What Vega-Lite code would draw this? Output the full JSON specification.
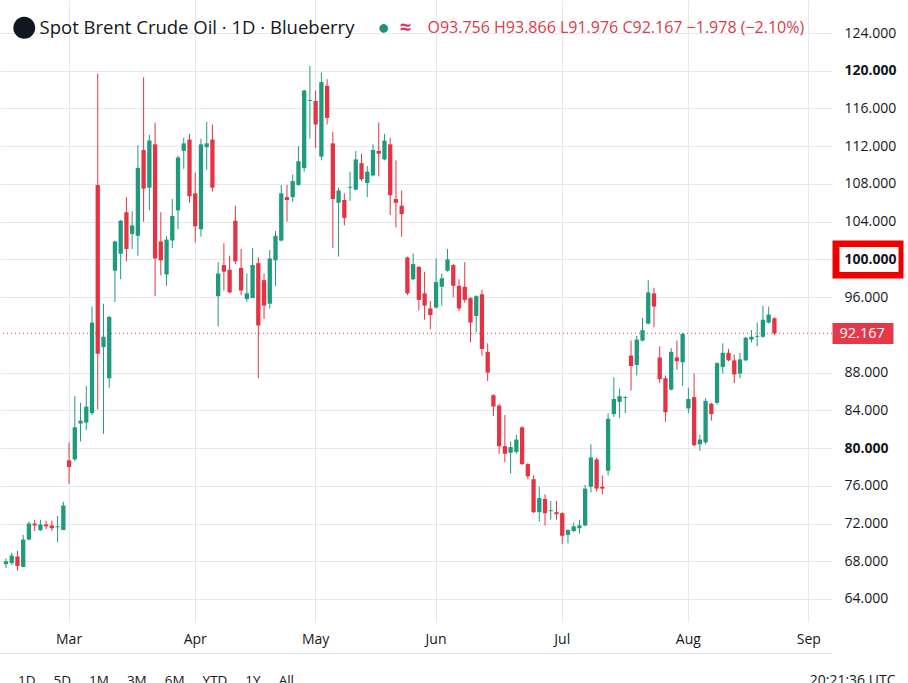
{
  "$schema": "https://vega.github.io/schema/vega-lite/v6.json",
  "width": 832,
  "height": 622,
  "autosize": {"type": "none"},
  "padding": {"left": 0, "top": 0, "right": 76, "bottom": 61},
  "background": "white",
  "config": {"view": {"stroke": null}, "font": "Open Sans"},
  "title": {
    "text": "\u200b\u2003\u2006Spot Brent Crude Oil · 1D · Blueberry",
    "subtitle": "1D\u2003\u20045D\u2003\u20041M\u2003\u20043M\u2003\u20046M\u2003\u2004YTD\u2003\u20041Y\u2003\u2004All",
    "anchor": "start",
    "frame": "group",
    "orient": "top",
    "offset": -687,
    "dx": 18,
    "fontSize": 18.5,
    "fontWeight": "normal",
    "color": "#131722",
    "subtitleFontSize": 13.5,
    "subtitleColor": "#131722",
    "subtitlePadding": 636
  },
  "data": {
    "values": [
      {"date": "2026-02-13", "open": 67.7, "high": 68.3, "low": 67.3, "close": 68.0},
      {"date": "2026-02-16", "open": 67.8, "high": 68.9, "low": 67.6, "close": 68.6},
      {"date": "2026-02-17", "open": 68.5, "high": 69.1, "low": 67.0, "close": 67.5},
      {"date": "2026-02-18", "open": 67.4, "high": 70.8, "low": 67.4, "close": 70.3},
      {"date": "2026-02-19", "open": 70.3, "high": 72.2, "low": 70.2, "close": 72.0},
      {"date": "2026-02-20", "open": 72.0, "high": 72.4, "low": 71.2, "close": 71.8},
      {"date": "2026-02-23", "open": 71.3, "high": 72.4, "low": 71.2, "close": 71.9},
      {"date": "2026-02-24", "open": 71.9, "high": 72.3, "low": 71.4, "close": 71.7},
      {"date": "2026-02-25", "open": 71.8, "high": 72.3, "low": 71.2, "close": 71.5},
      {"date": "2026-02-26", "open": 71.6, "high": 72.8, "low": 70.0, "close": 71.7},
      {"date": "2026-02-27", "open": 71.3, "high": 74.3, "low": 71.3, "close": 73.9},
      {"date": "2026-03-02", "open": 78.7, "high": 80.6, "low": 76.2, "close": 78.0},
      {"date": "2026-03-03", "open": 78.8, "high": 85.5, "low": 78.6, "close": 82.2},
      {"date": "2026-03-04", "open": 82.6, "high": 84.8, "low": 80.7, "close": 82.9},
      {"date": "2026-03-05", "open": 82.7, "high": 86.6, "low": 81.9, "close": 84.4},
      {"date": "2026-03-06", "open": 83.7, "high": 95.0, "low": 83.5, "close": 93.3},
      {"date": "2026-03-09", "open": 107.9, "high": 119.7, "low": 84.1, "close": 90.0},
      {"date": "2026-03-10", "open": 90.7, "high": 95.3, "low": 81.5, "close": 91.8},
      {"date": "2026-03-11", "open": 87.4, "high": 94.0, "low": 86.4, "close": 93.9},
      {"date": "2026-03-12", "open": 98.8, "high": 102.0, "low": 95.5, "close": 101.9},
      {"date": "2026-03-13", "open": 100.6, "high": 104.2, "low": 97.9, "close": 104.1},
      {"date": "2026-03-16", "open": 105.0, "high": 106.6, "low": 99.8, "close": 101.1},
      {"date": "2026-03-17", "open": 102.7, "high": 105.1, "low": 101.1, "close": 103.6},
      {"date": "2026-03-18", "open": 102.5, "high": 112.1, "low": 100.4, "close": 109.7},
      {"date": "2026-03-19", "open": 111.6, "high": 119.3, "low": 104.0, "close": 107.5},
      {"date": "2026-03-20", "open": 107.6, "high": 113.2, "low": 105.2, "close": 112.6},
      {"date": "2026-03-23", "open": 112.2, "high": 114.5, "low": 96.1, "close": 100.1},
      {"date": "2026-03-24", "open": 101.9, "high": 105.0, "low": 98.3, "close": 99.9},
      {"date": "2026-03-25", "open": 98.4, "high": 102.5, "low": 97.2, "close": 102.1},
      {"date": "2026-03-26", "open": 102.0, "high": 106.4, "low": 101.2, "close": 104.6},
      {"date": "2026-03-27", "open": 105.2, "high": 111.0, "low": 103.2, "close": 110.8},
      {"date": "2026-03-30", "open": 111.5, "high": 112.9, "low": 109.6, "close": 112.3},
      {"date": "2026-03-31", "open": 112.7, "high": 113.3, "low": 106.0, "close": 106.7},
      {"date": "2026-04-01", "open": 107.0, "high": 109.2, "low": 101.8, "close": 103.5},
      {"date": "2026-04-02", "open": 103.2, "high": 112.8, "low": 102.4, "close": 112.2},
      {"date": "2026-04-06", "open": 111.9, "high": 114.6, "low": 109.5, "close": 112.3},
      {"date": "2026-04-07", "open": 112.7, "high": 114.3, "low": 107.2, "close": 107.6},
      {"date": "2026-04-08", "open": 96.1, "high": 99.7, "low": 92.9, "close": 98.5},
      {"date": "2026-04-09", "open": 99.4, "high": 101.7, "low": 96.7, "close": 98.7},
      {"date": "2026-04-10", "open": 98.9, "high": 100.4, "low": 96.4, "close": 96.5},
      {"date": "2026-04-13", "open": 104.1, "high": 105.7, "low": 99.5, "close": 99.8},
      {"date": "2026-04-14", "open": 99.1, "high": 101.1, "low": 96.2, "close": 96.7},
      {"date": "2026-04-15", "open": 95.8, "high": 98.5, "low": 95.5, "close": 96.4},
      {"date": "2026-04-16", "open": 95.9, "high": 101.2, "low": 95.9, "close": 99.4},
      {"date": "2026-04-17", "open": 99.6, "high": 100.2, "low": 87.4, "close": 93.0},
      {"date": "2026-04-20", "open": 97.8, "high": 98.5, "low": 93.7, "close": 95.1},
      {"date": "2026-04-21", "open": 95.3, "high": 101.0, "low": 94.8, "close": 100.1},
      {"date": "2026-04-22", "open": 99.9, "high": 103.0, "low": 97.2, "close": 102.5},
      {"date": "2026-04-23", "open": 102.0, "high": 107.9, "low": 101.9, "close": 107.0},
      {"date": "2026-04-24", "open": 106.6, "high": 107.9, "low": 104.0, "close": 106.3},
      {"date": "2026-04-27", "open": 106.6, "high": 109.0, "low": 106.1, "close": 108.3},
      {"date": "2026-04-28", "open": 107.9, "high": 112.0, "low": 107.8, "close": 110.4},
      {"date": "2026-04-29", "open": 109.7, "high": 118.0, "low": 109.3, "close": 117.9},
      {"date": "2026-04-30", "open": 116.8, "high": 120.5, "low": 112.8, "close": 116.9},
      {"date": "2026-05-01", "open": 116.8, "high": 117.9, "low": 111.8, "close": 114.3},
      {"date": "2026-05-04", "open": 110.9, "high": 119.8, "low": 110.5, "close": 118.8},
      {"date": "2026-05-05", "open": 118.4, "high": 119.1, "low": 114.3, "close": 115.0},
      {"date": "2026-05-06", "open": 112.3, "high": 113.5, "low": 101.2, "close": 106.4},
      {"date": "2026-05-07", "open": 106.0, "high": 107.6, "low": 100.3, "close": 107.3},
      {"date": "2026-05-08", "open": 106.3, "high": 107.0, "low": 103.6, "close": 104.4},
      {"date": "2026-05-11", "open": 107.6, "high": 109.3, "low": 106.2, "close": 107.7},
      {"date": "2026-05-12", "open": 107.4, "high": 111.5, "low": 107.3, "close": 110.6},
      {"date": "2026-05-13", "open": 110.2, "high": 111.2, "low": 108.3, "close": 108.5},
      {"date": "2026-05-14", "open": 108.1, "high": 109.9, "low": 106.6, "close": 109.3},
      {"date": "2026-05-15", "open": 108.9, "high": 112.2, "low": 108.8, "close": 111.6},
      {"date": "2026-05-18", "open": 111.5, "high": 114.5, "low": 108.8, "close": 111.2},
      {"date": "2026-05-19", "open": 110.6, "high": 113.3, "low": 110.5, "close": 112.6},
      {"date": "2026-05-20", "open": 112.2, "high": 112.9, "low": 104.7, "close": 106.8},
      {"date": "2026-05-21", "open": 106.4, "high": 110.5, "low": 103.4, "close": 106.0},
      {"date": "2026-05-22", "open": 105.7, "high": 107.3, "low": 102.4, "close": 104.8},
      {"date": "2026-05-25", "open": 100.2, "high": 100.3, "low": 96.2, "close": 96.4},
      {"date": "2026-05-26", "open": 97.9, "high": 100.6, "low": 97.8, "close": 99.5},
      {"date": "2026-05-27", "open": 99.2, "high": 99.3, "low": 94.6, "close": 95.7},
      {"date": "2026-05-28", "open": 96.4, "high": 98.7, "low": 93.6, "close": 95.1},
      {"date": "2026-05-29", "open": 94.8, "high": 95.6, "low": 92.6, "close": 94.1},
      {"date": "2026-06-01", "open": 94.9, "high": 100.1, "low": 94.8, "close": 97.6},
      {"date": "2026-06-02", "open": 97.1, "high": 98.5, "low": 95.1, "close": 98.0},
      {"date": "2026-06-03", "open": 98.8, "high": 101.1, "low": 98.7, "close": 100.0},
      {"date": "2026-06-04", "open": 99.4, "high": 99.5, "low": 96.0, "close": 97.2},
      {"date": "2026-06-05", "open": 97.2, "high": 97.9, "low": 94.5, "close": 94.8},
      {"date": "2026-06-08", "open": 97.1, "high": 99.7, "low": 95.4, "close": 95.7},
      {"date": "2026-06-09", "open": 95.9, "high": 96.0, "low": 91.2, "close": 93.3},
      {"date": "2026-06-10", "open": 94.0, "high": 96.2, "low": 92.3, "close": 96.1},
      {"date": "2026-06-11", "open": 96.3, "high": 96.8, "low": 89.8, "close": 90.5},
      {"date": "2026-06-12", "open": 90.2, "high": 91.1, "low": 87.1, "close": 88.0},
      {"date": "2026-06-15", "open": 85.6, "high": 85.7, "low": 83.4, "close": 84.4},
      {"date": "2026-06-16", "open": 84.5, "high": 84.7, "low": 79.4, "close": 80.2},
      {"date": "2026-06-17", "open": 80.2, "high": 83.5, "low": 78.5, "close": 79.4},
      {"date": "2026-06-18", "open": 79.5, "high": 80.7, "low": 77.3, "close": 80.1},
      {"date": "2026-06-19", "open": 79.6, "high": 81.4, "low": 79.4, "close": 80.9},
      {"date": "2026-06-22", "open": 82.2, "high": 82.3, "low": 78.2, "close": 78.3},
      {"date": "2026-06-23", "open": 78.3, "high": 78.4, "low": 76.7, "close": 77.0},
      {"date": "2026-06-24", "open": 76.7, "high": 77.1, "low": 73.1, "close": 73.2},
      {"date": "2026-06-25", "open": 73.2, "high": 75.9, "low": 72.2, "close": 74.7},
      {"date": "2026-06-26", "open": 74.6, "high": 75.1, "low": 71.8, "close": 73.1},
      {"date": "2026-06-29", "open": 73.3, "high": 74.4, "low": 72.4, "close": 73.4},
      {"date": "2026-06-30", "open": 73.2, "high": 74.4, "low": 72.4, "close": 73.0},
      {"date": "2026-07-01", "open": 73.1, "high": 73.2, "low": 69.8, "close": 70.7},
      {"date": "2026-07-02", "open": 70.8, "high": 71.4, "low": 69.9, "close": 71.3},
      {"date": "2026-07-06", "open": 71.2, "high": 72.1, "low": 71.1, "close": 71.7},
      {"date": "2026-07-07", "open": 71.5, "high": 72.4, "low": 70.9, "close": 71.8},
      {"date": "2026-07-08", "open": 71.8, "high": 76.1, "low": 71.7, "close": 75.7},
      {"date": "2026-07-09", "open": 75.9, "high": 80.4, "low": 75.3, "close": 79.0},
      {"date": "2026-07-10", "open": 78.8, "high": 79.0, "low": 75.4, "close": 75.7},
      {"date": "2026-07-13", "open": 75.9, "high": 77.1, "low": 75.1, "close": 75.7},
      {"date": "2026-07-14", "open": 77.6, "high": 83.7, "low": 77.1, "close": 83.1},
      {"date": "2026-07-15", "open": 83.6, "high": 87.5, "low": 83.3, "close": 85.2},
      {"date": "2026-07-16", "open": 84.9, "high": 86.3, "low": 83.2, "close": 85.5},
      {"date": "2026-07-17", "open": 85.3, "high": 85.5, "low": 83.7, "close": 85.4},
      {"date": "2026-07-20", "open": 89.8, "high": 91.4, "low": 86.1, "close": 88.7},
      {"date": "2026-07-21", "open": 88.8, "high": 91.9, "low": 87.7, "close": 91.5},
      {"date": "2026-07-22", "open": 91.4, "high": 93.8, "low": 91.3, "close": 92.5},
      {"date": "2026-07-23", "open": 93.2, "high": 97.8, "low": 93.1, "close": 96.5},
      {"date": "2026-07-24", "open": 96.4, "high": 97.0, "low": 92.8, "close": 95.0},
      {"date": "2026-07-27", "open": 89.6, "high": 90.8, "low": 86.9, "close": 87.3},
      {"date": "2026-07-28", "open": 87.4, "high": 87.7, "low": 82.8, "close": 83.8},
      {"date": "2026-07-29", "open": 86.2, "high": 90.6, "low": 86.1, "close": 90.2},
      {"date": "2026-07-30", "open": 89.6, "high": 91.4, "low": 88.3, "close": 89.2},
      {"date": "2026-07-31", "open": 89.1, "high": 92.2, "low": 86.6, "close": 92.1},
      {"date": "2026-08-03", "open": 84.2, "high": 86.4, "low": 83.7, "close": 85.2},
      {"date": "2026-08-04", "open": 85.4, "high": 87.9, "low": 80.2, "close": 80.3},
      {"date": "2026-08-05", "open": 80.4, "high": 81.4, "low": 79.7, "close": 80.9},
      {"date": "2026-08-06", "open": 80.6, "high": 85.3, "low": 80.4, "close": 85.0},
      {"date": "2026-08-07", "open": 84.7, "high": 84.8, "low": 82.9, "close": 83.6},
      {"date": "2026-08-10", "open": 84.8, "high": 89.1, "low": 84.6, "close": 89.0},
      {"date": "2026-08-11", "open": 88.6, "high": 91.1, "low": 87.9, "close": 90.1},
      {"date": "2026-08-12", "open": 90.1, "high": 90.5, "low": 89.2, "close": 89.3},
      {"date": "2026-08-13", "open": 89.3, "high": 89.9, "low": 86.9, "close": 87.8},
      {"date": "2026-08-14", "open": 87.9, "high": 90.1, "low": 87.4, "close": 89.4},
      {"date": "2026-08-17", "open": 89.3, "high": 91.8, "low": 89.2, "close": 91.7},
      {"date": "2026-08-18", "open": 91.5, "high": 92.5, "low": 91.2, "close": 91.8},
      {"date": "2026-08-19", "open": 91.8, "high": 93.3, "low": 90.8, "close": 91.9},
      {"date": "2026-08-20", "open": 91.8, "high": 95.1, "low": 91.7, "close": 93.6},
      {"date": "2026-08-21", "open": 93.3, "high": 95.0, "low": 93.2, "close": 94.145},
      {"date": "2026-08-24", "open": 93.756, "high": 93.866, "low": 91.976, "close": 92.167}
    ]
  },
  "layer": [
    {
      "transform": [{"filter": "datum.date === '2026-08-24'"}],
      "mark": {"type": "rule", "color": "#e0303f", "strokeDash": [1, 3], "strokeWidth": 1},
      "encoding": {
        "y": {
          "field": "close",
          "type": "quantitative",
          "axis": {
            "orient": "right",
            "values": [92.167],
            "format": ".3f",
            "grid": false,
            "domain": false,
            "tickSize": 61,
            "tickWidth": 21,
            "tickColor": "#e5394a",
            "labelColor": "white",
            "labelFontSize": 14.5,
            "labelPadding": -54,
            "zindex": 1,
            "title": "●",
            "titleAngle": 0,
            "titleX": -449,
            "titleY": 27,
            "titleAlign": "center",
            "titleBaseline": "middle",
            "titleFontSize": 20,
            "titleFontWeight": "normal",
            "titleColor": "#1f8f75"
          }
        }
      }
    },
    {
      "mark": {"type": "rule", "strokeWidth": 1},
      "encoding": {
        "x": {
          "field": "date",
          "type": "ordinal",
          "scale": {
            "type": "band",
            "paddingInner": 0.25,
            "paddingOuter": 0.67,
            "domain": {"unionWith": ["2026-08-25", "2026-08-26", "2026-08-27", "2026-08-28", "2026-08-31", "2026-09-01", "2026-09-02", "2026-09-03", "2026-09-04"]}
          },
          "axis": {
            "orient": "bottom",
            "values": ["2026-03-02", "2026-04-01", "2026-05-01", "2026-06-01", "2026-07-01", "2026-08-03", "2026-09-01"],
            "labelExpr": "utcFormat(toDate(datum.value), '%b')",
            "labelAngle": 0,
            "labelFontSize": 14,
            "labelColor": "#131722",
            "labelBaseline": "middle",
            "labelPadding": -14,
            "offset": 31,
            "ticks": false,
            "domain": true,
            "domainColor": "#e0e3eb",
            "grid": true,
            "gridColor": "#e6e8ec",
            "title": "●",
            "titleFontSize": 51,
            "titleFontWeight": "normal",
            "titleColor": "#131722",
            "titleX": 24,
            "titleY": -627,
            "titleAlign": "center",
            "titleBaseline": "middle"
          }
        },
        "y": {
          "field": "low",
          "type": "quantitative",
          "scale": {"domain": [61.56, 127.5], "nice": false, "zero": false},
          "axis": {
            "orient": "right",
            "values": [64, 68, 72, 76, 80, 84, 88, 96, 100, 104, 108, 112, 116, 120, 124],
            "format": ".3f",
            "domain": false,
            "grid": true,
            "gridColor": "#e6e8ec",
            "labelFontSize": 14,
            "labelColor": "#131722",
            "labelFontWeight": {"condition": {"test": "datum.value % 20 === 0", "value": "bold"}, "value": "normal"},
            "tickSize": 71,
            "tickWidth": {"condition": {"test": "datum.value === 100", "value": 38}, "value": 0},
            "tickColor": {"condition": {"test": "datum.value === 100", "value": "#ee0000"}, "value": "transparent"},
            "labelPadding": -59,
            "title": "O93.756 H93.866 L91.976 C92.167 −1.978 (−2.10%)",
            "titleAngle": 0,
            "titleX": -405,
            "titleY": 27,
            "titleAlign": "left",
            "titleBaseline": "middle",
            "titleFontSize": 16,
            "titleFontWeight": "normal",
            "titleColor": "#e0394a"
          }
        },
        "y2": {"field": "high"},
        "color": {"condition": {"test": "datum.close >= datum.open", "value": "#1f9a7e"}, "value": "#e53343"}
      }
    },
    {
      "mark": {"type": "bar"},
      "encoding": {
        "x": {
          "field": "date",
          "type": "ordinal",
          "scale": {
            "type": "band",
            "paddingInner": 0.25,
            "paddingOuter": 0.67,
            "domain": {"unionWith": ["2026-08-25", "2026-08-26", "2026-08-27", "2026-08-28", "2026-08-31", "2026-09-01", "2026-09-02", "2026-09-03", "2026-09-04"]}
          },
          "axis": {
            "orient": "bottom",
            "labels": false,
            "ticks": false,
            "domain": false,
            "grid": false,
            "title": "20:21:36 UTC",
            "titleFontSize": 14,
            "titleFontWeight": "normal",
            "titleColor": "#131722",
            "titleX": 895,
            "titleY": 58,
            "titleAlign": "right",
            "titleBaseline": "middle"
          }
        },
        "y": {
          "field": "open",
          "type": "quantitative",
          "axis": {
            "orient": "right",
            "values": [100],
            "format": ".3f",
            "grid": false,
            "domain": false,
            "offset": 7,
            "tickSize": 59,
            "tickWidth": 25,
            "tickColor": "white",
            "labelColor": "#131722",
            "labelFontSize": 14,
            "labelFontWeight": "bold",
            "labelPadding": -54,
            "zindex": 2,
            "title": "≈",
            "titleAngle": 0,
            "titleX": -434,
            "titleY": 27,
            "titleAlign": "center",
            "titleBaseline": "middle",
            "titleFontSize": 20,
            "titleFontWeight": "bold",
            "titleColor": "#d6336c"
          }
        },
        "y2": {"field": "close"},
        "color": {"condition": {"test": "datum.close >= datum.open", "value": "#1f9a7e"}, "value": "#e53343"}
      }
    }
  ],
  "resolve": {"axis": {"x": "independent", "y": "independent"}}
}
